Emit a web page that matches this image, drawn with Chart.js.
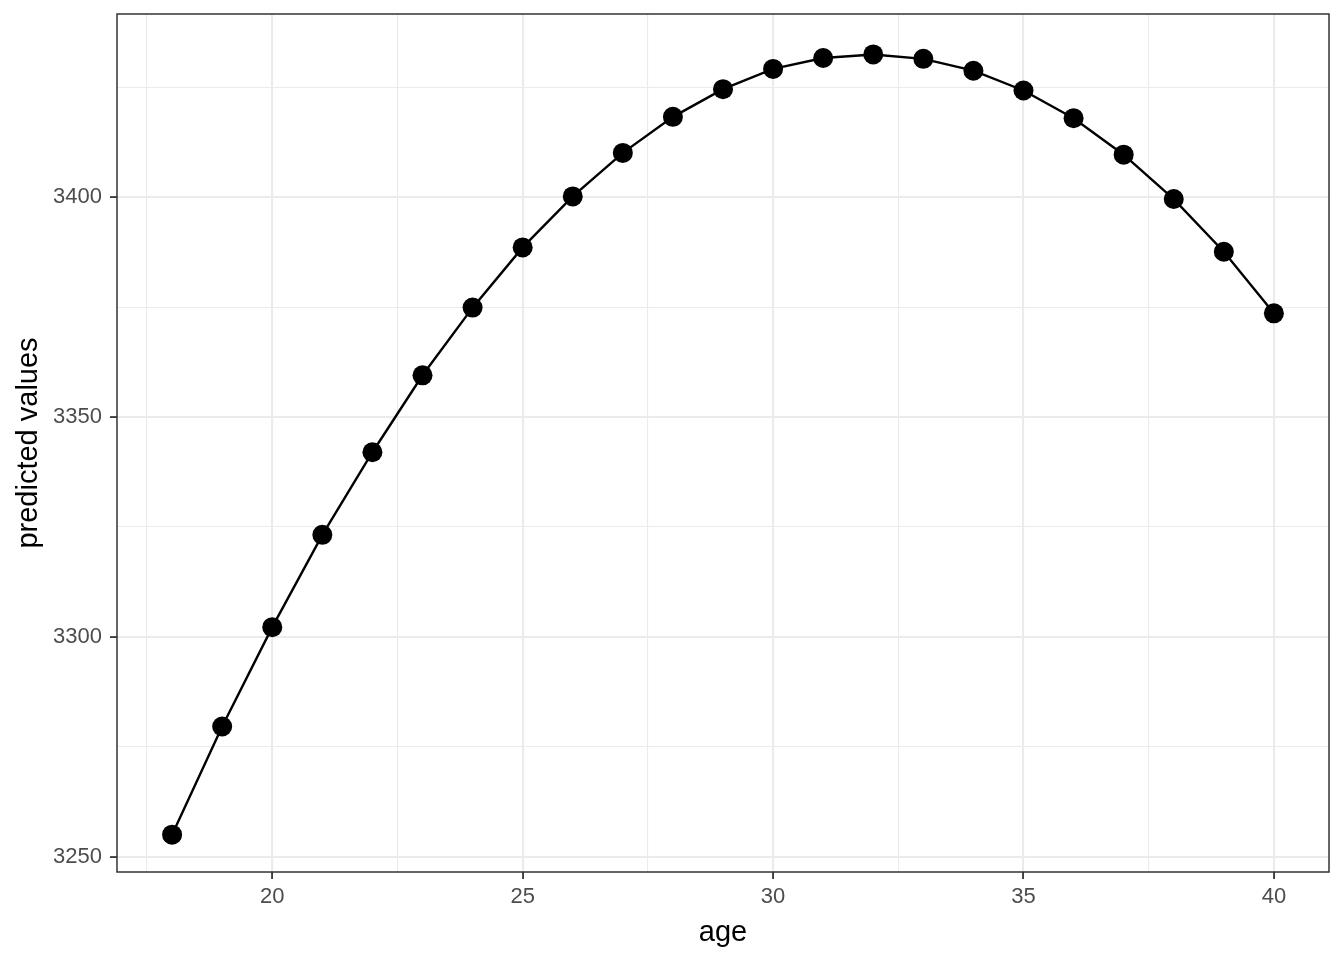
<!DOCTYPE html>
<html>
<head>
<meta charset="utf-8">
<script src="https://cdn.jsdelivr.net/npm/chart.js@4.4.1/dist/chart.umd.min.js"></script>
<style>
  html, body { margin: 0; padding: 0; background: #fff; }
  #wrap { width: 1344px; height: 960px; }
</style>
</head>
<body>
<div id="wrap"><canvas id="c" width="1344" height="960"></canvas></div>
<script>
// values
const ages = [18, 19, 20, 21, 22, 23, 24, 25, 26, 27, 28, 29, 30, 31, 32, 33, 34, 35, 36, 37, 38, 39, 40];
const predicted = [3255.0, 3279.6, 3302.2, 3323.2, 3342.0, 3359.5, 3374.9, 3388.6, 3400.2, 3410.1, 3418.3, 3424.6,
  3429.2, 3431.7, 3432.5, 3431.5, 3428.8, 3424.3, 3418.0, 3409.7, 3399.6, 3387.6, 3373.6];
const xMajor = [20, 25, 30, 35, 40];
const xMinor = [17.5, 22.5, 27.5, 32.5, 37.5];
const yMajor = [3250, 3300, 3350, 3400];
const yMinor = [3275, 3325, 3375, 3425];

const gridGrey = '#ebebeb';
const darkGrey = '#333333';
const font = 'Liberation Sans, Arial, Helvetica, sans-serif';

function tickList(major, minor) {
  return major.concat(minor).sort((a, b) => a - b).map(v => ({ value: v }));
}
function isMajor(list, v) { return list.includes(v); }

// ggplot style panel border
const panelBorder = {
  id: 'panelBorder',
  afterDraw(chart) {
    const { ctx, chartArea: a } = chart;
    ctx.save();
    ctx.strokeStyle = darkGrey;
    ctx.lineWidth = 1.5;
    ctx.strokeRect(a.left, a.top, a.right - a.left, a.bottom - a.top);
    ctx.restore();
  }
};

new Chart(document.getElementById('c'), {
  type: 'line',
  data: {
    datasets: [{
      data: ages.map((a, i) => ({ x: a, y: predicted[i] })),
      borderColor: '#000',
      borderWidth: 2.4,
      backgroundColor: '#000',
      pointRadius: 10,
      pointHoverRadius: 10,
      pointBorderWidth: 0,
      tension: 0
    }]
  },
  options: {
    responsive: false,
    animation: false,
    layout: { padding: { top: 14, right: 15, left: 0, bottom: 0 } },
    plugins: { legend: { display: false }, tooltip: { enabled: false } },
    scales: {
      x: {
        type: 'linear',
        min: 16.9,
        max: 41.1,
        afterBuildTicks: s => { s.ticks = tickList(xMajor, xMinor); },
        afterFit: s => { s.height = 88; s.paddingLeft = 0; s.paddingRight = 0; },
        border: { display: false },
        grid: {
          color: c => gridGrey,
          lineWidth: c => (c.tick && isMajor(xMajor, c.tick.value)) ? 2.1 : 1.1,
          tickColor: c => (c.tick && isMajor(xMajor, c.tick.value)) ? darkGrey : 'rgba(0,0,0,0)',
          tickWidth: 1.8,
          tickLength: 7
        },
        ticks: {
          autoSkip: false,
          maxRotation: 0,
          padding: 5,
          color: '#4d4d4d',
          font: { family: font, size: 22 },
          callback: v => isMajor(xMajor, v) ? String(v) : ''
        },
        title: {
          display: true,
          text: 'age',
          color: '#000',
          font: { family: font, size: 29 },
          padding: { top: 0, bottom: 10 }
        }
      },
      y: {
        type: 'linear',
        min: 3246.5,
        max: 3441.7,
        afterBuildTicks: s => { s.ticks = tickList(yMajor, yMinor); },
        afterFit: s => { s.width = 117; s.paddingTop = 0; s.paddingBottom = 0; },
        border: { display: false },
        grid: {
          color: c => gridGrey,
          lineWidth: c => (c.tick && isMajor(yMajor, c.tick.value)) ? 2.1 : 1.1,
          tickColor: c => (c.tick && isMajor(yMajor, c.tick.value)) ? darkGrey : 'rgba(0,0,0,0)',
          tickWidth: 1.8,
          tickLength: 7
        },
        ticks: {
          autoSkip: false,
          padding: 8,
          color: '#4d4d4d',
          font: { family: font, size: 22 },
          callback: v => isMajor(yMajor, v) ? String(v) : ''
        },
        title: {
          display: true,
          text: 'predicted values',
          color: '#000',
          font: { family: font, size: 29 },
          padding: { top: 12, bottom: 0 }
        }
      }
    }
  },
  plugins: [panelBorder]
});
</script>
</body>
</html>
